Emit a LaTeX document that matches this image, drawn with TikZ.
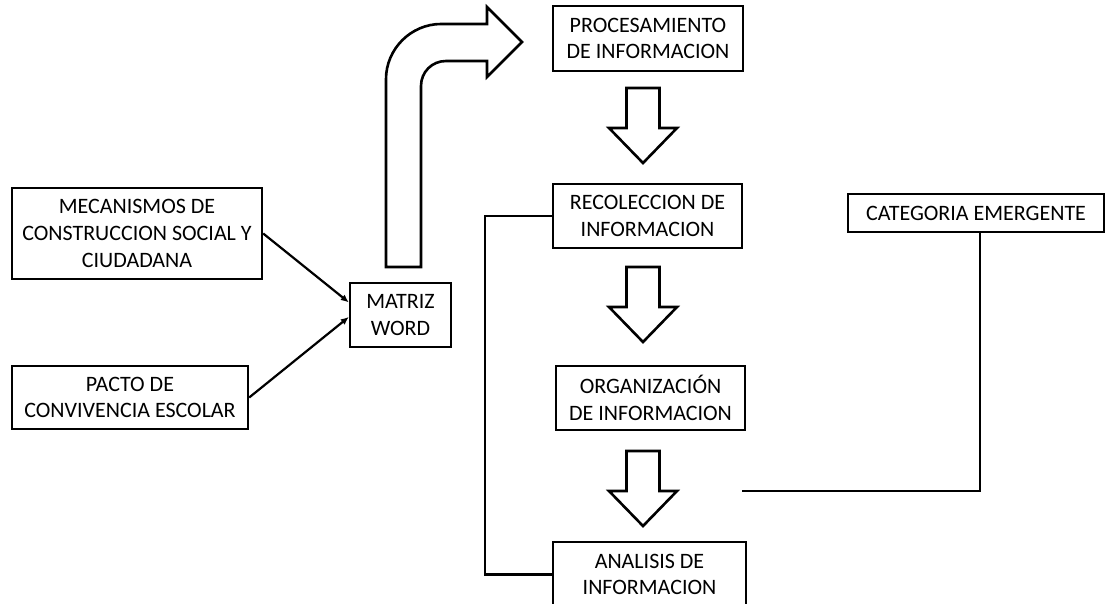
\documentclass[tikz,border=0pt]{standalone}
\usepackage{fontspec}
\setmainfont{Carlito}
\usetikzlibrary{arrows.meta,calc}
\begin{document}
\begin{tikzpicture}[x=1pt,y=-1pt,
  box/.style={draw=black,line width=2.4pt,fill=white,align=center,inner sep=1pt,
    font=\fontsize{22}{26.8}\selectfont},
  blk/.style={draw=black,line width=2.6pt,fill=white,line join=miter},
  conn/.style={draw=black,line width=2.2pt},
  arr/.style={conn,-{Latex[length=8pt,width=7pt]}},
  downblock/.pic={\path[blk] (-16.5,0) -- (16.5,0) -- (16.5,40) -- (34,40) -- (0,75) -- (-34,40) -- (-16.5,40) -- cycle;}
]
\useasboundingbox[fill=white] (0,0) rectangle (1107,604);

% boxes
\node[box,minimum width=190pt,minimum height=65pt] (proc) at (648,38.5) {PROCESAMIENTO\\DE INFORMACION};
\node[box,minimum width=189pt,minimum height=64pt] (reco) at (647.5,216) {RECOLECCION DE\\INFORMACION};
\node[box,minimum width=189pt,minimum height=64pt] (org) at (650.5,398) {ORGANIZACIÓN\\DE INFORMACION};
\node[box,minimum width=193pt,minimum height=65pt] (anal) at (649.5,574.5) {ANALISIS DE\\INFORMACION};
\node[box,minimum width=256pt,minimum height=38pt] (cat) at (976,213) {CATEGORIA EMERGENTE};
\node[box,minimum width=250pt,minimum height=91pt] (mec) at (137,233.5) {MECANISMOS DE\\CONSTRUCCION SOCIAL Y\\CIUDADANA};
\node[box,minimum width=236pt,minimum height=63pt] (pacto) at (130,397.5) {PACTO DE\\CONVIVENCIA ESCOLAR};
\node[box,minimum width=101pt,minimum height=64pt] (matriz) at (400.5,315) {MATRIZ\\WORD};

% block arrows
\pic at (643,88) {downblock};
\pic at (643,267) {downblock};
\pic at (643,451) {downblock};

\path[blk] (386,267) -- (386,79) .. controls (386,49) and (411,24) .. (441,24)
  -- (487,24) -- (487,7) -- (522,42) -- (487,77) -- (487,61) -- (446,61)
  .. controls (432,61) and (421,72) .. (421,86) -- (421,267) -- cycle;

% connectors
\coordinate (m1) at ($(matriz.north west)!0.31!(matriz.south west)$);
\coordinate (m2) at ($(matriz.north west)!0.53!(matriz.south west)$);
\draw[arr] (mec.east) -- (m1);
\draw[arr] (pacto.east) -- (m2);

\draw[conn] (reco.west) -- ++(-67,0) |- (anal.west);

\coordinate (catend) at (742,491);
\draw[conn] ($(cat.south)+(4,0)$) |- (catend);
\end{tikzpicture}
\end{document}
